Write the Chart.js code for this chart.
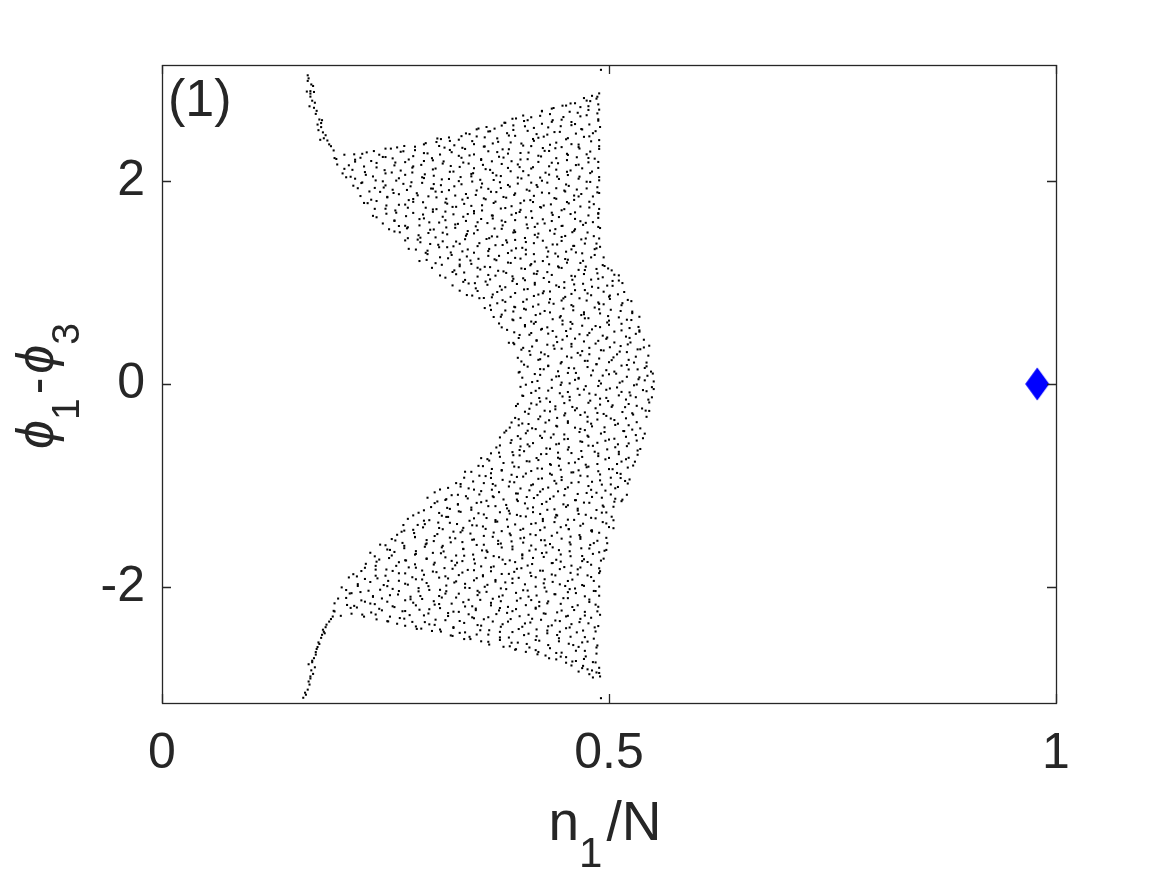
<!DOCTYPE html>
<html>
<head>
<meta charset="utf-8">
<style>
html,body{margin:0;padding:0;background:#ffffff;}
canvas{display:block;}
</style>
<script src="https://cdn.jsdelivr.net/npm/chart.js@4.4.1/dist/chart.umd.min.js"></script>
</head>
<body>
<canvas id="c" width="1166" height="875" style="width:1166px;height:875px"></canvas>
<script>
// ---- data: scatter coordinates in thousandths (n1/N * 1000, (phi1-phi3) * 1000) ----
const xTicks = [0, 0.5, 1];
const yTicks = [-2, 0, 2];
const xTickLabels = ['0', '0.5', '1'];
const yTickLabels = ['-2', '0', '2'];
const panelLabel = '(1)';

const upperLobeX = [
[403,414,423,436,444,456,466,480,489,500,512,520,533,543,550],
[399,409,423,432,443,455,463,476,486,497,506,520,532,542,549],
[402,412,423,432,446,458,468,476,489,500,509,522,530,542],
[394,402,414,424,438,447,458,470,478,491,501,512,521,535,545],
[388,399,411,419,432,442,453,462,476,488,498,506,519,530,539],
[380,394,406,416,424,437,448,457,470,478,490,500,514,523,534],
[371,380,393,401,413,423,437,446,457,469,477,490,500,511,520,534],
[361,375,384,395,407,415,428,438,449,458,472,484,494,502,515,526],
[347,360,370,381,390,404,416,426,434,447,458,467,480,488,500,510,521],
[333,343,351,364,375,384,397,405,417,427,441,450,461,473,481,494,504,515],
[317,329,339,353,362,373,385,393,406,416,427,436,450,462,472,480,493,504,511],
[302,313,325,333,346,356,367,376,390,402,412,420,433,444,453,466,474,486,495,503],
[288,297,311,323,333,341,354,365,374,387,395,407,417,431,440,451,463,471,484,494],
[276,289,297,309,319,333,342,353,365,373,386,396,407,416,430,442,452,460,473,484,490],
[266,275,286,298,306,319,329,340,349,363,375,385,393,406,417,426,439,447,459,469,483,489],
[254,265,274,288,300,310,318,331,342,351,364,372,384,394,408,417,428,440,448,461,471,482,490],
[240,251,260,273,281,293,303,317,326,337,349,357,370,380,391,400,414,426,436,444,457,468,477,488],
[230,238,251,261,272,281,295,307,317,325,338,349,358,371,379,391,401,415,424,435,447,455,468,478,489],
[222,234,244,252,265,276,285,298,306,318,328,342,351,362,374,382,395,405,416,425,439,451,461,469,482,489],
[214,224,238,247,258,270,278,291,301,312,321,335,347,357,365,378,389,398,411,419,431,441,455,464,475,487],
[206,216,227,236,250,262,272,280,293,304,313,326,334,346,356,370,379,390,402,410,423,433,444,453,467,479,489],
[196,204,216,226,240,249,260,272,280,293,303,314,323,337,349,359,367,380,391,400,413,421,433,443,457,466,477,488],
[193,204,216,224,237,247,258,267,281,293,303,311,324,335,344,357,365,377,387,401,410,421,433,441,454,464,475,484],
[250,263,271,283,293,307,316,327,339,347,360,370,381,390,404,416,426,434,447,458,467,480,489],
[312,321,332,344,352,365,375,386,395,409,421,431,439,452,463,472,485],
[352,363,372,384,393,405,416,425,437,446,458,469,478,488],
[392,404,413,425,434,447,456,468,477,487],
[436,448,457,468,479,488],
[472,481,489,486]
];
const upperLobeY = [
[62,19,90,42,77,6,53,85,31,96,13,71,47,81,25],
[113,171,147,181,125,158,109,167,194,136,122,187,144,174,103],
[222,287,244,274,203,260,283,228,251,215,292,238,269,211],
[392,338,369,311,379,348,395,324,356,333,362,319,390,342,377],
[406,453,485,431,496,413,471,447,481,425,458,409,467,494,436],
[558,509,567,594,536,522,587,544,574,503,560,583,528,551,515],
[660,683,628,651,615,692,638,669,611,679,648,695,624,656,633,662],
[748,795,724,756,733,762,719,790,742,777,706,753,785,731,796,713],
[871,847,881,825,858,809,867,894,836,822,887,844,874,803,860,883,828],
[919,990,942,977,906,953,985,931,996,913,971,947,981,925,958,909,967,994],
[1047,1081,1025,1058,1009,1067,1094,1036,1022,1087,1044,1074,1003,1060,1083,1028,1051,1015,1070],
[1144,1174,1103,1160,1183,1128,1151,1115,1192,1138,1169,1111,1179,1148,1195,1124,1156,1133,1162,1119],
[1211,1279,1248,1295,1224,1256,1233,1262,1219,1290,1242,1277,1206,1253,1285,1231,1296,1213,1271,1247],
[1331,1396,1313,1371,1347,1381,1325,1358,1309,1367,1394,1336,1322,1387,1344,1374,1303,1360,1383,1328,1351],
[1494,1436,1422,1487,1444,1474,1403,1460,1483,1428,1451,1415,1492,1438,1469,1411,1479,1448,1495,1424,1456,1433],
[1524,1556,1533,1562,1519,1590,1542,1577,1506,1553,1585,1531,1596,1513,1571,1547,1581,1525,1558,1509,1567,1594,1536],
[1642,1677,1606,1653,1685,1631,1696,1613,1671,1647,1681,1625,1658,1609,1667,1694,1636,1622,1687,1644,1674,1603,1660,1683],
[1781,1725,1758,1709,1767,1794,1736,1722,1787,1744,1774,1703,1760,1783,1728,1751,1715,1792,1738,1769,1711,1779,1748,1795,1724],
[1851,1815,1892,1838,1869,1811,1879,1848,1895,1824,1856,1833,1862,1819,1890,1842,1877,1806,1853,1885,1831,1896,1813,1871,1847,1881],
[1953,1985,1931,1996,1913,1971,1947,1981,1925,1958,1909,1967,1994,1936,1922,1987,1944,1974,1903,1960,1983,1928,1951,1915,1992,1938],
[2036,2022,2087,2044,2074,2003,2060,2083,2028,2051,2015,2092,2038,2069,2011,2079,2048,2095,2024,2056,2033,2062,2019,2090,2042,2077,2006],
[2162,2119,2190,2142,2177,2106,2153,2185,2131,2196,2113,2171,2147,2181,2125,2158,2109,2167,2194,2136,2122,2187,2144,2174,2103,2160,2183,2128],
[2225,2258,2209,2267,2294,2236,2222,2287,2244,2274,2203,2260,2283,2228,2251,2215,2292,2238,2269,2211,2279,2248,2295,2224,2256,2233,2262,2219],
[2318,2330,2344,2303,2360,2383,2328,2351,2315,2392,2338,2369,2311,2379,2348,2395,2324,2356,2333,2362,2319,2390,2342],
[2412,2428,2406,2461,2438,2487,2419,2470,2444,2493,2425,2456,2481,2410,2466,2434,2490],
[2508,2531,2515,2572,2547,2590,2522,2563,2598,2539,2580,2511,2556,2593],
[2612,2644,2627,2690,2658,2603,2681,2636,2699,2665],
[2712,2741,2763,2727,2786,2754],
[2816,2838,2862,2810]
];

// second set of readings, upper half (rows in between the first set)
const upperLobe2X = [
[407,420,436,447,462,474,491,501,515,528,540,548],
[400,417,427,441,454,466,482,493,508,522,534,547],
[405,421,432,447,461,473,486,503,514,528,540],
[398,411,428,439,453,465,478,494,505,520,532,544],
[393,404,419,431,448,458,472,485,497,513,524,539],
[386,400,413,425,441,452,467,481,493,506,523,534],
[377,392,406,418,431,448,459,473,485,498,514,525,533],
[368,379,393,405,418,434,445,460,472,489,499,513,526],
[355,367,384,394,408,421,433,449,460,475,489,501,514,525],
[341,353,369,380,395,409,421,434,451,462,476,488,501,517],
[325,337,350,367,378,392,404,417,433,444,459,471,488,498,511],
[311,327,338,353,365,382,392,406,419,431,447,458,473,487,499,506],
[296,306,320,333,345,361,372,387,401,413,426,443,454,468,480,493],
[284,295,310,324,336,349,366,377,391,403,416,432,443,458,470,486],
[272,289,300,314,326,339,355,366,381,395,407,420,437,447,461,474,486],
[260,275,287,304,314,328,341,353,369,380,395,409,421,434,451,462,476,488],
[247,260,272,288,299,314,328,340,353,370,381,395,407,420,436,447,462,474,488],
[236,250,262,275,292,303,317,329,342,358,369,384,396,413,423,437,450,462,478,488],
[226,240,252,265,281,292,307,319,336,346,360,373,385,401,412,427,441,453,466,483],
[219,232,248,259,274,286,303,313,327,340,352,368,379,394,408,420,433,450,461,475,487],
[211,223,239,250,265,279,291,304,321,332,346,358,371,387,398,413,425,442,452,466,479,489],
[202,213,228,240,257,267,281,294,306,322,333,348,362,374,387,404,415,429,441,454,470,481],
[195,209,222,234,250,261,276,290,302,315,332,343,357,369,382,398,409,424,436,453,463,477,488],
[215,229,243,256,270,283,297,310,322,336,349,361,375,388,401,413,428,440,453,466,479,489],
[295,308,322,335,349,361,376,388,402,415,427,441,454,466,478,489],
[340,354,367,380,393,406,419,432,445,458,470,482,490],
[383,396,409,423,436,449,462,475,488],
[425,438,452,465,477,489],
[462,475,487]
];
const upperLobe2Y = [
[-7,30,-38,14,41,-21,5,-44,26,-13,36,-31],
[119,98,145,74,109,60,133,83,102,143,65,122],
[190,238,176,216,154,228,196,235,181,211,158],
[258,324,292,347,271,306,293,330,262,314,341,279],
[405,356,426,387,436,369,419,398,445,374,409,360],
[533,483,502,543,465,522,490,538,476,516,454,528],
[596,635,581,611,558,624,592,647,571,606,593,630,562],
[730,662,714,741,679,705,656,726,687,736,669,719,698],
[845,774,809,760,833,783,802,843,765,822,790,838,776,816],
[876,916,854,928,896,935,881,911,858,924,892,947,871,906],
[971,1006,993,1030,962,1014,1041,979,1005,956,1026,987,1036,969,1019],
[1069,1119,1098,1145,1074,1109,1060,1133,1083,1102,1143,1065,1122,1090,1138,1076],
[1222,1190,1238,1176,1216,1154,1228,1196,1235,1181,1211,1158,1224,1192,1247,1171],
[1324,1292,1347,1271,1306,1293,1330,1262,1314,1341,1279,1305,1256,1326,1287,1336],
[1414,1441,1379,1405,1356,1426,1387,1436,1369,1419,1398,1445,1374,1409,1360,1433,1383],
[1502,1543,1465,1522,1490,1538,1476,1516,1454,1528,1496,1535,1481,1511,1458,1524,1492,1547],
[1581,1611,1558,1624,1592,1647,1571,1606,1593,1630,1562,1614,1641,1579,1605,1556,1626,1587,1636],
[1656,1726,1687,1736,1669,1719,1698,1745,1674,1709,1660,1733,1683,1702,1743,1665,1722,1690,1738,1676],
[1783,1802,1843,1765,1822,1790,1838,1776,1816,1754,1828,1796,1835,1781,1811,1758,1824,1792,1847,1771],
[1928,1896,1935,1881,1911,1858,1924,1892,1947,1871,1906,1893,1930,1862,1914,1941,1879,1905,1856,1926,1887],
[2041,1979,2005,1956,2026,1987,2036,1969,2019,1998,2045,1974,2009,1960,2033,1983,2002,2043,1965,2022,1990,2038],
[2074,2109,2060,2133,2083,2102,2143,2065,2122,2090,2138,2076,2116,2054,2128,2096,2135,2081,2111,2058,2124,2092],
[2216,2154,2228,2196,2235,2181,2211,2158,2224,2192,2247,2171,2206,2193,2230,2162,2214,2241,2179,2205,2156,2226,2187],
[2262,2281,2258,2318,2292,2337,2271,2344,2305,2326,2261,2339,2284,2312,2275,2343,2296,2322,2267,2333,2289,2315],
[2372,2418,2394,2441,2362,2429,2385,2447,2368,2413,2436,2377,2421,2358,2439,2402],
[2468,2516,2489,2545,2502,2538,2461,2527,2483,2549,2507,2470,2531],
[2573,2615,2598,2641,2582,2629,2560,2647,2607],
[2685,2718,2742,2671,2736,2702],
[2765,2791,2829]
];

const lowerLobeX = [
[401,413,422,432,446,454,465,478,488,497,509,523,531,542,550],
[403,413,422,434,448,456,467,477,490,499,511,522,530,544],
[396,406,419,428,440,451,459,473,485,494,504,518,526,537,545],
[391,399,410,423,433,442,454,468,476,487,497,510,519,531,542],
[385,399,407,418,428,441,450,462,473,481,495,507,516,526,540],
[378,390,401,409,423,435,444,454,468,476,487,500,510,519,531,538],
[368,378,392,400,411,424,434,443,455,469,477,488,498,511,520,532],
[357,366,378,392,400,411,421,434,443,455,466,474,488,500,509,519,529],
[346,359,368,380,391,399,413,425,434,444,458,466,477,490,500,509,521],
[329,338,348,362,370,381,394,404,413,425,439,447,458,468,481,490,502,513,521],
[311,324,334,343,355,369,377,388,398,411,420,432,443,451,465,477,486,496,510,520],
[297,308,318,331,340,352,363,371,385,397,406,416,430,438,449,462,472,481,493,507,514],
[287,301,313,322,332,346,354,365,378,388,397,409,423,431,442,452,465,474,486,497,505],
[275,286,299,309,318,330,344,352,363,373,386,395,407,418,426,440,452,461,471,485,493,503],
[263,271,282,292,305,314,326,337,345,359,371,380,390,404,412,423,436,446,455,467,481,489,500],
[250,261,269,283,295,304,314,328,336,347,360,370,379,391,405,413,424,434,447,456,468,479,487,498],
[238,252,260,271,284,294,303,315,329,337,348,358,371,380,392,403,411,425,437,446,456,470,478,489,497],
[228,240,254,262,273,283,296,305,317,328,336,350,362,371,381,395,403,414,427,437,446,458,472,480,491],
[218,227,239,250,258,272,284,293,303,317,325,336,349,359,368,380,394,402,413,423,436,445,457,468,476,490],
[209,219,233,241,252,265,275,284,296,310,318,329,339,352,361,373,384,392,406,418,427,437,451,459,470,483,489],
[201,210,222,236,244,255,265,278,287,299,310,318,332,344,353,363,377,385,396,409,419,428,440,454,462,473,483],
[193,206,215,227,238,246,260,272,281,291,305,313,324,337,347,356,368,379,387,401,413,422,432,446,454,465,478,488],
[192,200,211,224,234,243,255,269,277,288,298,311,320,332,343,351,365,377,386,396,410,418,429,442,452,461,473,487],
[240,252,263,271,284,294,305,317,326,338,349,357,370,381,390,403,412,424,436,445,456,468,477,488],
[290,302,311,323,333,344,356,365,378,388,399,410,419,431,442,452,464,473,485],
[345,357,366,378,389,398,411,422,432,444,455,466,476,487],
[396,407,418,429,441,452,463,474,486],
[441,452,463,471,482,489,476],
[466,478,486,490,482]
];
const lowerLobeY = [
[-28,-88,-41,-65,-9,-79,-47,-94,-20,-57,-34,-83,-5,-71,-50],
[-114,-191,-138,-176,-123,-160,-107,-185,-144,-168,-112,-197,-130,-154],
[-217,-273,-203,-263,-249,-289,-226,-280,-239,-295,-210,-228,-288,-241,-265],
[-379,-347,-394,-320,-357,-334,-383,-305,-371,-350,-314,-391,-338,-376,-323],
[-460,-407,-485,-444,-468,-412,-497,-430,-454,-417,-473,-403,-463,-449,-489],
[-526,-580,-539,-595,-510,-528,-588,-541,-565,-509,-579,-547,-594,-520,-557,-534],
[-683,-605,-671,-650,-614,-691,-638,-676,-623,-660,-607,-685,-644,-668,-612,-697],
[-730,-754,-717,-773,-703,-763,-749,-789,-726,-780,-739,-795,-710,-728,-788,-741,-765],
[-865,-809,-879,-847,-894,-820,-857,-834,-883,-805,-871,-850,-814,-891,-838,-876,-823],
[-976,-923,-960,-907,-985,-944,-968,-912,-997,-930,-954,-917,-973,-903,-963,-949,-989,-926,-980],
[-1039,-1095,-1010,-1028,-1088,-1041,-1065,-1009,-1079,-1047,-1094,-1020,-1057,-1034,-1083,-1005,-1071,-1050,-1014,-1091],
[-1120,-1157,-1134,-1183,-1105,-1171,-1150,-1114,-1191,-1138,-1176,-1123,-1160,-1107,-1185,-1144,-1168,-1112,-1197,-1130,-1154],
[-1268,-1212,-1297,-1230,-1254,-1217,-1273,-1203,-1263,-1249,-1289,-1226,-1280,-1239,-1295,-1210,-1228,-1288,-1241,-1265,-1209],
[-1328,-1388,-1341,-1365,-1309,-1379,-1347,-1394,-1320,-1357,-1334,-1383,-1305,-1371,-1350,-1314,-1391,-1338,-1376,-1323,-1360,-1307],
[-1485,-1444,-1468,-1412,-1497,-1430,-1454,-1417,-1473,-1403,-1463,-1449,-1489,-1426,-1480,-1439,-1495,-1410,-1428,-1488,-1441,-1465,-1409],
[-1588,-1541,-1565,-1509,-1579,-1547,-1594,-1520,-1557,-1534,-1583,-1505,-1571,-1550,-1514,-1591,-1538,-1576,-1523,-1560,-1507,-1585,-1544,-1568],
[-1697,-1630,-1654,-1617,-1673,-1603,-1663,-1649,-1689,-1626,-1680,-1639,-1695,-1610,-1628,-1688,-1641,-1665,-1609,-1679,-1647,-1694,-1620,-1657,-1634],
[-1771,-1750,-1714,-1791,-1738,-1776,-1723,-1760,-1707,-1785,-1744,-1768,-1712,-1797,-1730,-1754,-1717,-1773,-1703,-1763,-1749,-1789,-1726,-1780,-1739],
[-1895,-1810,-1828,-1888,-1841,-1865,-1809,-1879,-1847,-1894,-1820,-1857,-1834,-1883,-1805,-1871,-1850,-1814,-1891,-1838,-1876,-1823,-1860,-1807,-1885,-1844],
[-1905,-1971,-1950,-1914,-1991,-1938,-1976,-1923,-1960,-1907,-1985,-1944,-1968,-1912,-1997,-1930,-1954,-1917,-1973,-1903,-1963,-1949,-1989,-1926,-1980,-1939,-1995],
[-2003,-2063,-2049,-2089,-2026,-2080,-2039,-2095,-2010,-2028,-2088,-2041,-2065,-2009,-2079,-2047,-2094,-2020,-2057,-2034,-2083,-2005,-2071,-2050,-2014,-2091,-2038],
[-2160,-2107,-2185,-2144,-2168,-2112,-2197,-2130,-2154,-2117,-2173,-2103,-2163,-2149,-2189,-2126,-2180,-2139,-2195,-2110,-2128,-2188,-2141,-2165,-2109,-2179,-2147,-2194],
[-2234,-2283,-2205,-2271,-2250,-2214,-2291,-2238,-2276,-2223,-2260,-2207,-2285,-2244,-2268,-2212,-2297,-2230,-2254,-2217,-2273,-2203,-2263,-2249,-2289,-2226,-2280,-2239],
[-2318,-2336,-2361,-2311,-2388,-2345,-2372,-2326,-2394,-2353,-2307,-2380,-2339,-2366,-2315,-2391,-2349,-2322,-2377,-2335,-2398,-2313,-2357,-2384],
[-2409,-2432,-2418,-2476,-2451,-2490,-2425,-2468,-2441,-2497,-2413,-2459,-2484,-2428,-2472,-2405,-2446,-2493,-2437],
[-2512,-2534,-2566,-2521,-2583,-2547,-2595,-2528,-2571,-2504,-2558,-2589,-2537,-2575],
[-2612,-2638,-2621,-2674,-2649,-2690,-2627,-2683,-2655],
[-2712,-2745,-2728,-2776,-2739,-2795,-2810],
[-2832,-2858,-2841,-2880,-2890]
];

// second set of readings, lower half
const lowerLobe2X = [
[404,418,430,445,456,472,485,497,514,524,538,548],
[398,411,423,440,450,464,479,490,503,519,531,545],
[395,410,421,434,450,462,476,487,502,515,527,541],
[389,403,414,429,442,454,468,480,495,506,522,535],
[383,398,409,425,438,450,467,477,491,506,517,530],
[374,391,401,415,430,441,454,470,482,496,507,522,535],
[364,377,393,405,419,430,445,458,470,484,496,511,522,532],
[354,369,382,394,408,420,435,446,462,475,487,504,514,527],
[339,355,368,380,397,407,421,436,447,460,476,488,502,513,523],
[320,334,349,360,373,389,401,415,426,441,454,466,480,492,507,518],
[305,317,331,342,357,370,382,396,408,423,434,450,463,475,492,502,515],
[293,305,319,331,346,357,373,386,398,415,425,439,454,465,478,494,506],
[281,293,310,320,334,349,360,373,389,401,415,426,441,454,466,480,492,505],
[270,281,294,310,322,336,347,362,375,387,401,413,428,439,455,468,480,497,505],
[257,268,283,296,308,322,334,349,360,376,389,401,418,428,442,457,468,481,497],
[244,255,271,284,296,313,323,337,352,363,376,392,404,418,429,444,457,469,483,495],
[233,243,257,272,283,296,312,324,338,349,364,377,389,403,415,430,441,457,470,482,494],
[223,239,251,265,276,291,304,316,330,342,357,368,384,397,409,426,436,450,465,476,489],
[214,227,239,253,265,280,291,307,320,332,349,359,373,388,399,412,428,440,454,465,480,489],
[206,219,231,248,258,272,287,298,311,327,339,353,364,379,392,404,418,430,445,456,472,485],
[197,212,223,236,252,264,278,289,304,317,329,343,355,370,381,397,410,422,439,449,463,478,489],
[193,207,218,233,246,258,272,284,299,310,326,339,351,368,378,392,407,418,431,447,459,473,485],
[212,226,239,253,266,280,293,306,320,333,347,360,374,387,400,414,427,440,454,467,480,490],
[272,285,299,312,326,339,353,366,379,392,406,419,432,445,458,471,484],
[325,338,352,365,378,391,405,418,431,444,457,470,483],
[382,395,408,421,434,447,460,473,486],
[420,433,446,459,472,485],
[458,470,481,489]
];
const lowerLobe2Y = [
[-118,-67,-142,-91,-127,-55,-106,-137,-78,-113,-60,-131],
[-196,-244,-173,-220,-188,-239,-164,-203,-225,-153,-215,-182],
[-334,-294,-346,-270,-309,-259,-323,-285,-340,-276,-301,-262],
[-429,-389,-436,-380,-418,-367,-442,-391,-427,-355,-406,-437],
[-478,-513,-460,-531,-496,-544,-473,-520,-488,-539,-464,-503],
[-625,-553,-615,-582,-634,-594,-646,-570,-609,-559,-623,-585,-640],
[-740,-676,-701,-662,-729,-689,-736,-680,-718,-667,-742,-691,-727,-655],
[-806,-837,-778,-813,-760,-831,-796,-844,-773,-820,-788,-839,-764,-803],
[-864,-903,-925,-853,-915,-882,-934,-894,-946,-870,-909,-859,-923,-885,-940],
[-1023,-985,-1040,-976,-1001,-962,-1029,-989,-1036,-980,-1018,-967,-1042,-991,-1027,-955],
[-1067,-1142,-1091,-1127,-1055,-1106,-1137,-1078,-1113,-1060,-1131,-1096,-1144,-1073,-1120,-1088,-1139],
[-1244,-1173,-1220,-1188,-1239,-1164,-1203,-1225,-1153,-1215,-1182,-1234,-1194,-1246,-1170,-1209,-1159],
[-1294,-1346,-1270,-1309,-1259,-1323,-1285,-1340,-1276,-1301,-1262,-1329,-1289,-1336,-1280,-1318,-1267,-1342],
[-1389,-1436,-1380,-1418,-1367,-1442,-1391,-1427,-1355,-1406,-1437,-1378,-1413,-1360,-1431,-1396,-1444,-1373,-1420],
[-1527,-1455,-1506,-1537,-1478,-1513,-1460,-1531,-1496,-1544,-1473,-1520,-1488,-1539,-1464,-1503,-1525,-1453,-1515],
[-1582,-1634,-1594,-1646,-1570,-1609,-1559,-1623,-1585,-1640,-1576,-1601,-1562,-1629,-1589,-1636,-1580,-1618,-1567,-1642],
[-1662,-1729,-1689,-1736,-1680,-1718,-1667,-1742,-1691,-1727,-1655,-1706,-1737,-1678,-1713,-1660,-1731,-1696,-1744,-1673,-1720],
[-1842,-1791,-1827,-1755,-1806,-1837,-1778,-1813,-1760,-1831,-1796,-1844,-1773,-1820,-1788,-1839,-1764,-1803,-1825,-1753,-1815],
[-1873,-1920,-1888,-1939,-1864,-1903,-1925,-1853,-1915,-1882,-1934,-1894,-1946,-1870,-1909,-1859,-1923,-1885,-1940,-1876,-1901,-1862],
[-2029,-1989,-2036,-1980,-2018,-1967,-2042,-1991,-2027,-1955,-2006,-2037,-1978,-2013,-1960,-2031,-1996,-2044,-1973,-2020,-1988,-2039],
[-2113,-2060,-2131,-2096,-2144,-2073,-2120,-2088,-2139,-2064,-2103,-2125,-2053,-2115,-2082,-2134,-2094,-2146,-2070,-2109,-2059,-2123,-2085],
[-2240,-2176,-2201,-2162,-2229,-2189,-2236,-2180,-2218,-2167,-2242,-2191,-2227,-2155,-2206,-2237,-2178,-2213,-2160,-2231,-2196,-2244,-2173],
[-2262,-2291,-2270,-2338,-2305,-2343,-2279,-2321,-2256,-2334,-2298,-2317,-2266,-2340,-2287,-2312,-2259,-2329,-2283,-2345,-2302,-2273],
[-2381,-2412,-2367,-2438,-2403,-2446,-2374,-2425,-2391,-2443,-2358,-2417,-2386,-2440,-2365,-2428,-2397],
[-2481,-2512,-2467,-2539,-2496,-2548,-2473,-2521,-2455,-2534,-2489,-2545,-2508],
[-2588,-2617,-2560,-2639,-2602,-2646,-2571,-2628,-2595],
[-2662,-2701,-2685,-2733,-2708,-2742],
[-2772,-2798,-2821,-2846]
];

const upperTailX = [163,163,169,162,166,170,166,168,172,165,170,176,179,174,178,175,180,183,177,185,189,192,164,167,171,173,181,187,166,178];
const upperTailY = [3040,2985,2935,2880,2884,2876,2830,2790,2660,2735,2720,2605,2598,2555,2530,2500,2478,2450,2405,2398,2342,2300,3010,2950,2770,2690,2420,2360,2860,2570];
const lowerTailX = [191,187,183,180,182,178,176,174,172,170,168,171,167,169,166,165,163,161,158,164,173,179,189,184,181,175,172,168,166,164,160];
const lowerTailY = [-2290,-2340,-2395,-2420,-2455,-2500,-2560,-2590,-2640,-2700,-2725,-2790,-2820,-2855,-2900,-2960,-3010,-3060,-3090,-2760,-2610,-2470,-2315,-2370,-2440,-2545,-2665,-2740,-2880,-2930,-3040];
const edgeX = [491, 491];
const edgeY = [3094, -3094];

const fixedPointX = [0.979];
const fixedPointY = [0];

// ---- build point table ----
function toPoints(xs, ys) {
  const pts = [];
  const n = Math.min(xs.length, ys.length);
  for (let i = 0; i < n; i++) {
    if (Array.isArray(xs[i])) {
      const m = Math.min(xs[i].length, ys[i].length);
      for (let j = 0; j < m; j++) pts.push({x: xs[i][j] / 1000, y: ys[i][j] / 1000});
    } else {
      pts.push({x: xs[i] / 1000, y: ys[i] / 1000});
    }
  }
  return pts;
}
const scatterPts = [].concat(
  toPoints(upperLobeX, upperLobeY),
  toPoints(upperLobe2X, upperLobe2Y),
  toPoints(lowerLobeX, lowerLobeY),
  toPoints(lowerLobe2X, lowerLobe2Y),
  toPoints(upperTailX, upperTailY),
  toPoints(lowerTailX, lowerTailY),
  toPoints(edgeX, edgeY)
);
const fixedPts = fixedPointX.map((x, i) => ({x: x, y: fixedPointY[i]}));

// ---- styles ----
const INK = '#262626';
const FONT = '"Liberation Sans", Arial, Helvetica, sans-serif';

const diamond = document.createElement('canvas');
diamond.width = 26; diamond.height = 34;
(function () {
  const d = diamond.getContext('2d');
  d.fillStyle = '#0000ff';
  d.beginPath();
  d.moveTo(13, 0.5); d.lineTo(25, 17); d.lineTo(13, 33.5); d.lineTo(1, 17);
  d.closePath(); d.fill();
})();

const framePlugin = {
  id: 'frame',
  afterDraw(chart) {
    const ctx = chart.ctx, a = chart.chartArea;
    const xs = chart.scales.x, ys = chart.scales.y;
    ctx.save();
    ctx.strokeStyle = INK;
    ctx.lineWidth = 1.3;
    ctx.strokeRect(Math.round(a.left) + 0.5, Math.round(a.top) + 0.5,
                   Math.round(a.right - a.left), Math.round(a.bottom - a.top));
    const tl = 9;
    ctx.beginPath();
    xTicks.forEach(v => {
      const p = Math.round(xs.getPixelForValue(v)) + 0.5;
      ctx.moveTo(p, a.bottom); ctx.lineTo(p, a.bottom - tl);
      ctx.moveTo(p, a.top); ctx.lineTo(p, a.top + tl);
    });
    yTicks.forEach(v => {
      const p = Math.round(ys.getPixelForValue(v)) + 0.5;
      ctx.moveTo(a.left, p); ctx.lineTo(a.left + tl, p);
      ctx.moveTo(a.right, p); ctx.lineTo(a.right - tl, p);
    });
    ctx.stroke();

    ctx.fillStyle = INK;
    ctx.textBaseline = 'alphabetic';
    ctx.textAlign = 'left';
    // panel label
    ctx.font = '52px ' + FONT;
    ctx.fillText(panelLabel, a.left + 6, a.top + 51);

    // x axis label: n_1/N
    const mainX = '55px ' + FONT, subX = '42px ' + FONT;
    ctx.font = mainX; const wn = ctx.measureText('n').width; const wN = ctx.measureText('/N').width;
    ctx.font = subX; const w1 = ctx.measureText('1').width;
    const gap = 4;
    const total = wn + w1 + gap + wN;
    let sx = (a.left + a.right) / 2 - 4 - total / 2;
    const by = a.bottom + 137;
    ctx.font = mainX; ctx.fillText('n', sx, by); sx += wn;
    ctx.font = subX; ctx.fillText('1', sx, by + 27); sx += w1 + gap;
    ctx.font = mainX; ctx.fillText('/N', sx, by);

    // y axis label: phi_1 - phi_3 (rotated)
    const phiF = 'italic 52px ' + FONT, subY = '39px ' + FONT, mainY = '50px ' + FONT;
    ctx.font = phiF; const wp = ctx.measureText('\u03D5').width;
    ctx.font = subY; const ws = ctx.measureText('1').width;
    ctx.font = mainY; const wd = ctx.measureText('-').width;
    const totY = wp + ws + 4 + wd + 4 + wp + ws;
    const cy = (a.top + a.bottom) / 2 + 2;
    ctx.translate(53, cy + totY / 2);
    ctx.rotate(-Math.PI / 2);
    let lx = 0;
    ctx.font = phiF; ctx.fillText('\u03D5', lx, 0); lx += wp;
    ctx.font = subY; ctx.fillText('1', lx, 26); lx += ws + 4;
    ctx.font = mainY; ctx.fillText('-', lx, 0); lx += wd + 4;
    ctx.font = phiF; ctx.fillText('\u03D5', lx, 0); lx += wp;
    ctx.font = subY; ctx.fillText('3', lx, 26);
    ctx.restore();
  }
};

new Chart(document.getElementById('c'), {
  type: 'scatter',
  data: {
    datasets: [
      {
        label: 'trajectory',
        data: scatterPts,
        pointStyle: 'rect',
        pointRadius: 1.45,
        pointHoverRadius: 1.45,
        backgroundColor: '#000000',
        borderWidth: 0
      },
      {
        label: 'fixed point',
        data: fixedPts,
        pointStyle: diamond,
        pointRadius: 12,
        pointHoverRadius: 12,
        backgroundColor: '#0000ff',
        borderWidth: 0
      }
    ]
  },
  options: {
    responsive: false,
    animation: false,
    devicePixelRatio: 1,
    layout: {padding: {top: 65, right: 110, left: 0, bottom: 0}},
    plugins: {legend: {display: false}, tooltip: {enabled: false}},
    events: [],
    scales: {
      x: {
        type: 'linear', min: 0, max: 1,
        afterBuildTicks: s => { s.ticks = xTicks.map(v => ({value: v})); },
        afterFit: s => { s.height = 172; },
        grid: {display: false, drawTicks: false},
        border: {display: false},
        ticks: {
          color: INK, font: {family: FONT, size: 50}, padding: 21,
          maxRotation: 0, minRotation: 0, autoSkip: false,
          callback: v => xTickLabels[xTicks.indexOf(v)] ?? ''
        }
      },
      y: {
        type: 'linear', min: -Math.PI, max: Math.PI,
        afterBuildTicks: s => { s.ticks = yTicks.map(v => ({value: v})); },
        afterFit: s => { s.width = 162; },
        grid: {display: false, drawTicks: false},
        border: {display: false},
        ticks: {
          color: INK, font: {family: FONT, size: 50}, padding: 17,
          autoSkip: false,
          callback: v => yTickLabels[yTicks.indexOf(v)] ?? ''
        }
      }
    }
  },
  plugins: [framePlugin]
});
</script>
</body>
</html>
